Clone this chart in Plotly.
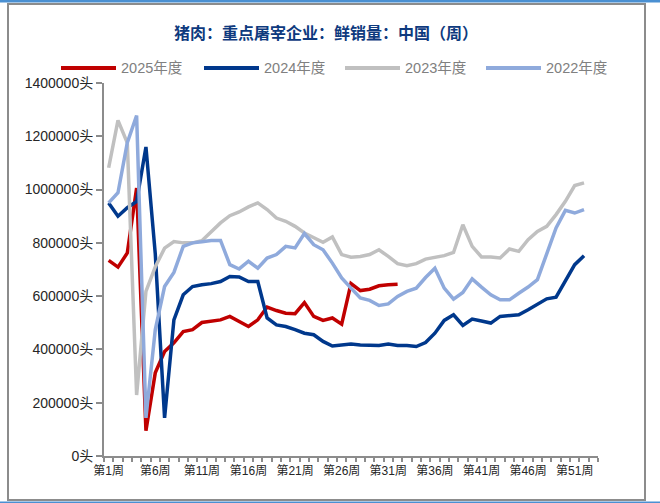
import plotly.graph_objects as go

# 周度数据：第1周 - 第53周
weeks = list(range(1, 54))
week_labels = ['第{}周'.format(w) for w in weeks]

s2025 = [734000, 709000, 762000, 1006000, 95000, 312000, 392000, 425000, 467000, 474000,
         501000, 505000, 511000, 524000, 505000, 486000, 511000, 559000, 546000, 536000,
         534000, 576000, 524000, 509000, 518000, 495000, 647000, 621000, 626000, 639000,
         643000, 645000]
s2024 = [950000, 900000, 932000, 955000, 1160000, 760000, 143000, 511000, 605000, 636000,
         643000, 647000, 655000, 674000, 672000, 655000, 655000, 518000, 492000, 486000,
         474000, 461000, 455000, 430000, 413000, 417000, 420000, 417000, 415000, 415000,
         420000, 415000, 415000, 411000, 426000, 461000, 509000, 530000, 490000, 514000,
         507000, 499000, 524000, 527000, 530000, 549000, 570000, 590000, 596000, 655000,
         718000, 752000]
s2023 = [1082000, 1260000, 1175000, 229000, 618000, 710000, 780000, 805000, 800000, 800000,
         808000, 840000, 875000, 902000, 916000, 935000, 950000, 925000, 893000, 881000,
         862000, 837000, 818000, 802000, 822000, 756000, 746000, 749000, 756000, 774000,
         749000, 722000, 714000, 722000, 739000, 747000, 752000, 764000, 868000, 787000,
         747000, 747000, 743000, 777000, 768000, 812000, 843000, 862000, 906000, 956000,
         1015000, 1025000]
s2022 = [950000, 988000, 1176000, 1278000, 143000, 474000, 636000, 689000, 787000, 800000,
         804000, 809000, 809000, 718000, 702000, 731000, 705000, 743000, 756000, 787000,
         781000, 835000, 793000, 774000, 724000, 668000, 630000, 593000, 584000, 565000,
         571000, 599000, 618000, 630000, 670000, 705000, 630000, 589000, 614000, 665000,
         634000, 605000, 586000, 586000, 611000, 634000, 662000, 756000, 856000, 922000,
         912000, 925000]

series = [('2025年度', s2025, '#C00000'),
          ('2024年度', s2024, '#00388C'),
          ('2023年度', s2023, '#C0C0C0'),
          ('2022年度', s2022, '#8FAADC')]

# 画布与边距（像素）
L, R, T, B = 104, 62, 83, 47
W = 660 - L - R
H = 503 - T - B

def px(x):
    return (x - L) / W

def py(y):
    return (503 - B - y) / H

fig = go.Figure()
for nombre, datos, color in series:
    fig.add_trace(go.Scatter(x=weeks[:len(datos)], y=datos, name=nombre, mode='lines',
                             line=dict(color=color, width=3.5), showlegend=False))

shapes = [
    # 外框
    dict(type='rect', xref='paper', yref='paper', x0=px(8), x1=px(645), y0=py(500), y1=py(4),
         line=dict(color='#8C8C8C', width=2), layer='below'),
    dict(type='rect', xref='paper', yref='paper', x0=px(0), x1=px(660), y0=py(2.5), y1=py(0),
         line=dict(width=0), fillcolor='#4A90D2', layer='below'),
    dict(type='rect', xref='paper', yref='paper', x0=px(0), x1=px(660), y0=py(503), y1=py(501.5),
         line=dict(width=0), fillcolor='#4A90D2', layer='below'),
]
annotations = []
legend_x = [61, 204, 345, 486]
for (nombre, datos, color), lx in zip(series, legend_x):
    shapes.append(dict(type='line', xref='paper', yref='paper', x0=px(lx), x1=px(lx + 55),
                       y0=py(68), y1=py(68), line=dict(color=color, width=4)))
    annotations.append(dict(text=nombre, xref='paper', yref='paper', x=px(lx + 58), y=py(68),
                            xanchor='left', yanchor='middle', showarrow=False,
                            font=dict(size=14.5, color='#808080', family='Liberation Sans, Noto Sans CJK SC')))

fig.update_layout(
    width=660, height=503,
    margin=dict(l=L, r=R, t=T, b=B),
    paper_bgcolor='white', plot_bgcolor='white',
    title=dict(text='<b>猪肉：重点屠宰企业：鲜销量：中国（周）</b>', x=326 / 660, y=1 - 33 / 503,
               xanchor='center', yanchor='middle',
               font=dict(size=16, color='#0E3A7E', family='Noto Sans CJK SC')),
    shapes=shapes, annotations=annotations,
    font=dict(family='Liberation Sans, Noto Sans CJK SC', color='#262626'),
)
fig.update_xaxes(range=[0.5, 53.5], tickmode='array', tickvals=weeks[::5], ticktext=week_labels[::5],
                 ticks='', showgrid=False, zeroline=False, ticklabelstandoff=3,
                 showline=True, linecolor='#8C8C8C', linewidth=2,
                 tickfont=dict(size=12, color='#262626'),
                 minor=dict(ticks='outside', tickmode='linear', tick0=0.5, dtick=1, ticklen=4,
                            tickcolor='#8C8C8C', tickwidth=1.5, showgrid=False))
fig.update_yaxes(range=[0, 1400000], dtick=200000, tickformat='d', ticksuffix='头',
                 ticks='outside', ticklen=6, tickcolor='#8C8C8C', tickwidth=1.5,
                 showgrid=False, zeroline=False,
                 showline=True, linecolor='#8C8C8C', linewidth=2,
                 tickfont=dict(size=14, color='#262626'))

fig.write_html("out.html", config={'displayModeBar': False},
               post_script="document.body.style.margin='0';")
